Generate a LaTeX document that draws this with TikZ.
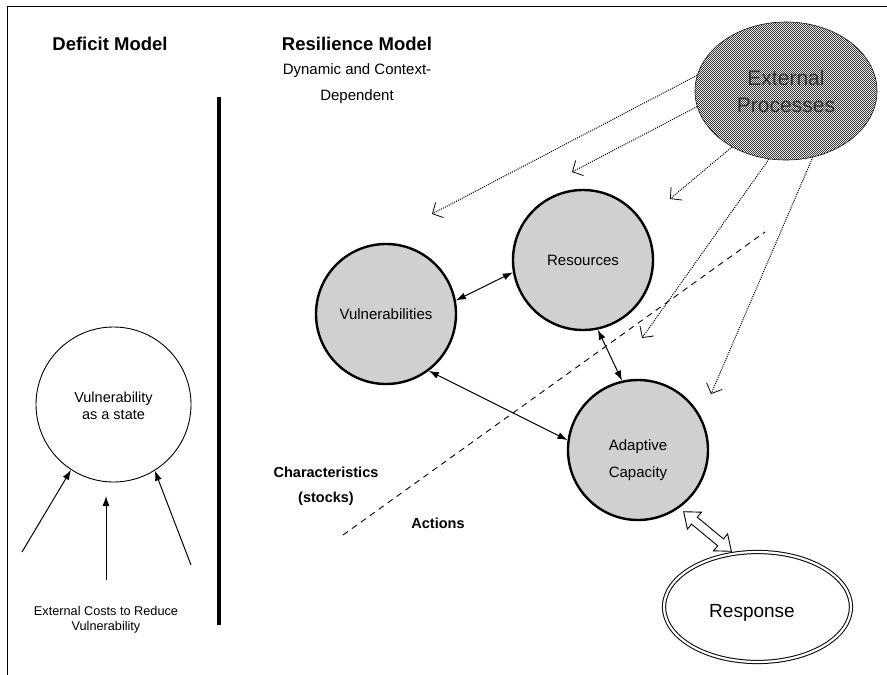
\documentclass[tikz,border=0pt]{standalone}
\usepackage{fontspec}
\setmainfont{Liberation Sans}
\usetikzlibrary{arrows.meta,shapes.geometric,patterns}

\pgfdeclarepatternformonly{finechecker}{\pgfpointorigin}{\pgfpoint{2.4pt}{2.4pt}}{\pgfpoint{2.4pt}{2.4pt}}{%
  \pgfpathrectangle{\pgfpointorigin}{\pgfpoint{1.2pt}{1.2pt}}%
  \pgfpathrectangle{\pgfpoint{1.2pt}{1.2pt}}{\pgfpoint{1.2pt}{1.2pt}}%
  \pgfusepath{fill}}

\definecolor{stockgray}{HTML}{CFD0CF}
\definecolor{hatchgray}{HTML}{3A3A3A}

\tikzset{
  stock/.style={circle, draw=black, line width=2.4pt, fill=stockgray,
    minimum size=140pt, inner sep=0pt, font=\fontsize{15}{17}\selectfont},
  plaincircle/.style={circle, draw=black, line width=0.9pt, minimum size=155pt, inner sep=0pt},
  headline/.style={font=\bfseries\fontsize{18.5}{21}\selectfont},
  subline/.style={font=\fontsize{15}{26}\selectfont, align=center},
  sidelabel/.style={font=\bfseries\fontsize{14.5}{25}\selectfont, align=center},
  link/.style={line width=1pt, {Latex[length=10pt,width=7pt]}-{Latex[length=10pt,width=7pt]}},
  influence/.style={line width=1pt, dash pattern=on 1pt off 1.1pt,
    -{Straight Barb[length=8pt,width=17pt,line width=0.8pt]}},
  push/.style={line width=1pt, -{Latex[length=10pt,width=7pt]}},
  hollowarrow/.style={draw=black, line width=0.9pt, fill=white, line join=miter},
}

\begin{document}
\begin{tikzpicture}[x=1pt,y=-1pt]
\useasboundingbox (0,0) rectangle (887,675);

% frame (top and left edges)
\draw[line width=1pt] (7,675) -- (7,6) -- (887,6);

% headings
\node[headline] (deficit) at (110,44) {Deficit Model};
\node[headline] (resil) at (357,44) {Resilience Model};
\node[subline, anchor=north] (dyn) at (357,60) {Dynamic and Context-\\Dependent};

% dividing bar
\draw[line width=3.5pt] (219,97) -- (219,625);

% deficit model
\node[plaincircle] (state) at (113.5,404.5) {};
\node[font=\fontsize{14.5}{17}\selectfont, align=center] (statetxt) at (113.5,405.5) {Vulnerability\\as a state};
\coordinate (c1) at (22,552);
\coordinate (c2) at (106,580);
\coordinate (c3) at (191,565);
\draw[push] (c1) -- (state.237);
\draw[push] (c2) -- (106,496);
\draw[push] (c3) -- (state.302);
\node[font=\fontsize{12.7}{15}\selectfont, align=center] (costs) at (106,620) {External Costs to Reduce\\Vulnerability};

% external processes
\node[ellipse, minimum width=182pt, minimum height=138pt, draw=black, line width=0.6pt,
      fill=white, inner sep=0pt] (extbg) at (786,91) {};
\fill[pattern=finechecker, pattern color=hatchgray] (786,91) ellipse [x radius=91pt, y radius=69pt];
\node[font=\fontsize{21}{27}\selectfont, align=center, text=black!80] (ext) at (786,91) {External\\Processes};

% boundary between stocks and actions
\coordinate (d1) at (343,535);
\coordinate (d2) at (765,232);
\draw[line width=0.9pt, dash pattern=on 6pt off 5pt] (d1) -- (d2);
\node[sidelabel] (charac) at (326,486.5) {Characteristics\\(stocks)};
\node[sidelabel] (actions) at (438,523) {Actions};

% resilience model
\node[stock] (vul) at (386,314) {Vulnerabilities};
\node[stock] (res) at (583,260) {Resources};
\node[stock] (ada) at (638,450) {};
\node[font=\fontsize{15}{27}\selectfont, align=center] (adatxt) at (638,460) {Adaptive\\Capacity};

\draw[link] (vul.11) -- (res.190);
\draw[link] (vul.307) -- (ada.172);
\draw[link] (res.282) -- (ada.103);

% influences of external processes
\coordinate (t1) at (432,214);
\coordinate (t2) at (572,172);
\coordinate (t3) at (670,199);
\coordinate (t4) at (642,338);
\coordinate (t5) at (711,394);
\draw[influence] (extbg.170) -- (t1);
\draw[influence] (extbg.190) -- (t2);
\draw[influence] (extbg.226) -- (t3);
\draw[influence] (extbg.256) -- (t4);
\draw[influence] (extbg.292) -- (t5);

% response
\node[ellipse, minimum width=187pt, minimum height=110pt, draw=black, line width=1pt,
      double, double distance=2.2pt, inner sep=0pt] (resp) at (757.5,607) {};
\node[font=\fontsize{19}{22}\selectfont] (resptxt) at (752,613) {Response};

% hollow two-way arrow between capacity and response
\coordinate (feedback) at (707.5,531.5);
\begin{scope}[shift={(feedback)}, rotate=-39.7]
  \draw[hollowarrow] (-31,0) -- (-17,11) -- (-17,4.5) -- (17,4.5) -- (17,11) -- (31,0)
    -- (17,-11) -- (17,-4.5) -- (-17,-4.5) -- (-17,-11) -- cycle;
\end{scope}
\end{tikzpicture}
\end{document}
